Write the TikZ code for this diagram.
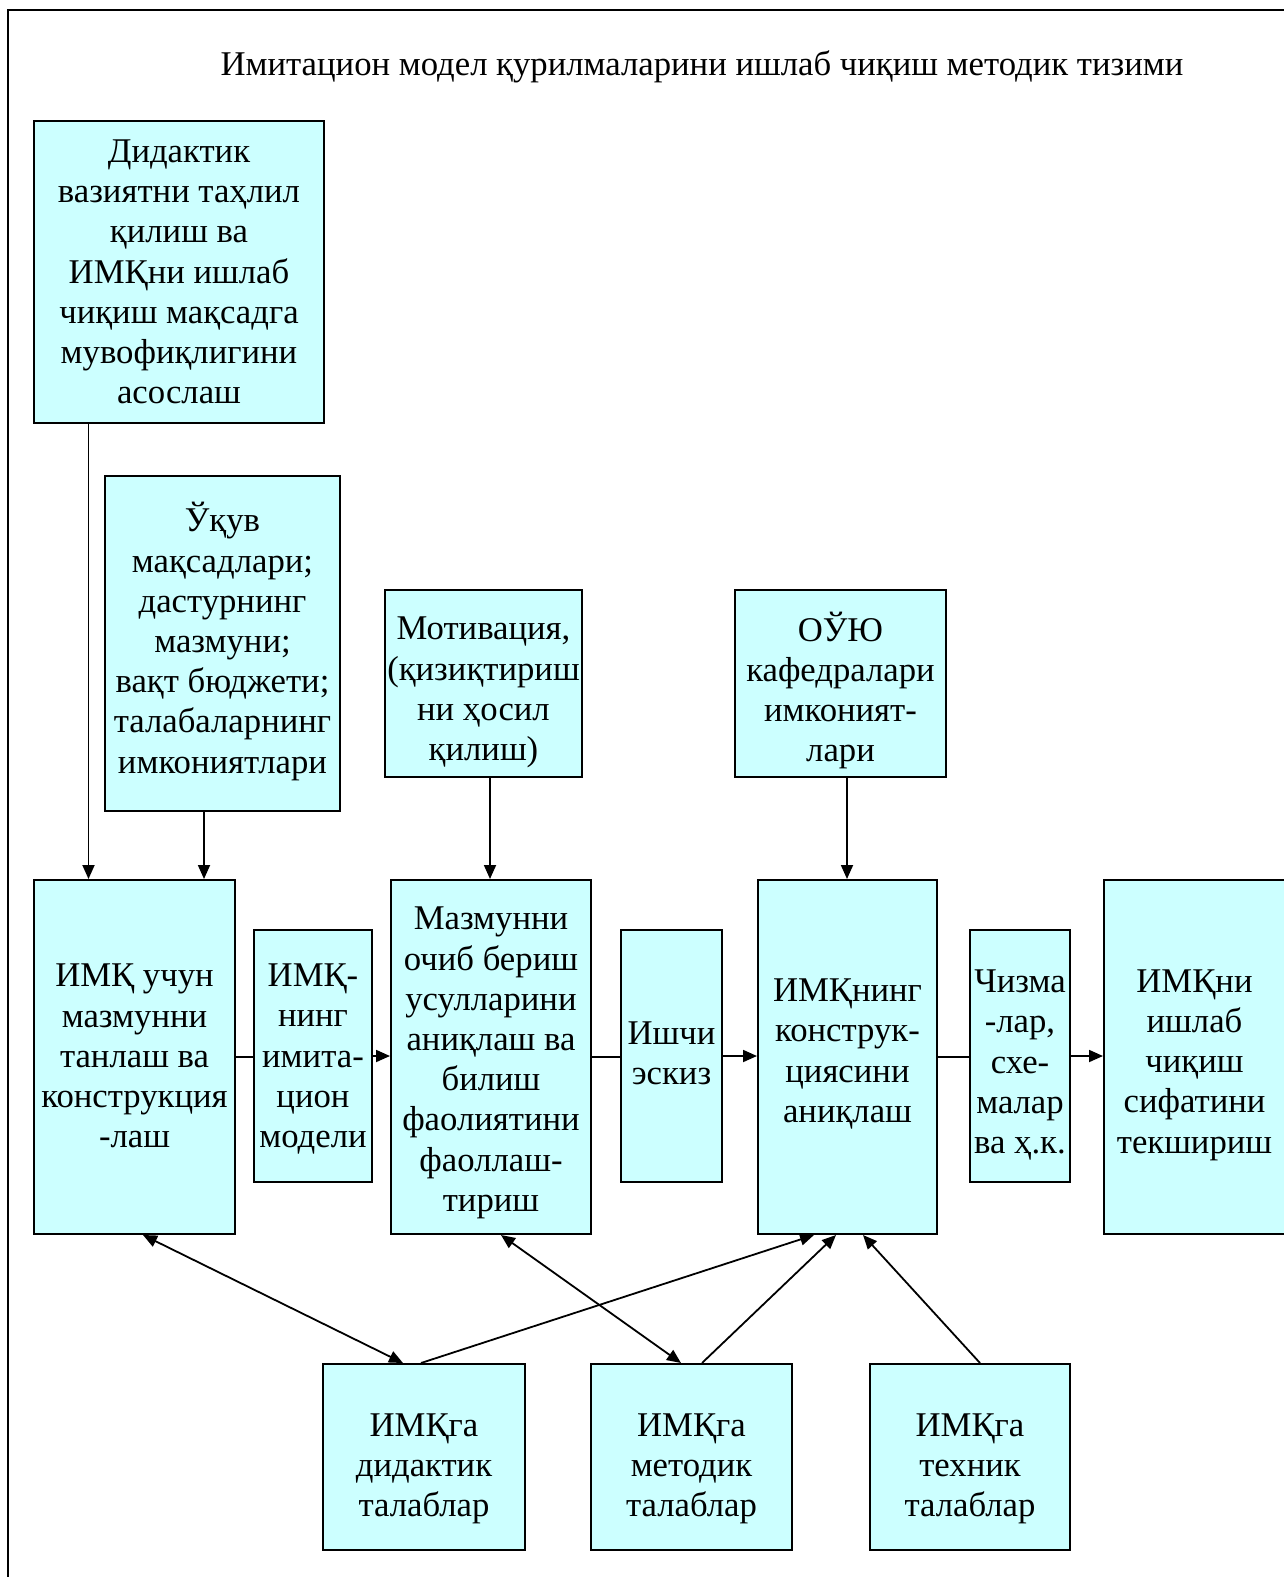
\documentclass[tikz,border=0pt]{standalone}
\usepackage{fontspec}
\setmainfont{Liberation Serif}
\usetikzlibrary{arrows.meta}
\definecolor{boxfill}{RGB}{204,255,255}
\begin{document}
\begin{tikzpicture}[x=1pt,y=-1pt,
  box/.style={draw=black, line width=2pt, fill=boxfill, inner sep=0pt, anchor=north west},
  txt/.style={inner sep=0pt, align=center, font=\fontsize{34.7}{40.2}\selectfont},
  conn/.style={line width=1.8pt},
  arr/.style={conn, -{Triangle[width=12pt,length=14pt]}},
  darr/.style={conn, {Triangle[width=12pt,length=14pt]}-{Triangle[width=12pt,length=14pt]}}]
\useasboundingbox (0,0) rectangle (1283,1577);
\draw[line width=2.5pt] (8,1600) -- (8,10) -- (1300,10);
\node[font=\fontsize{34.7}{40}\selectfont] (title) at (702,67) {Имитацион модел қурилмаларини ишлаб чиқиш методик тизими};
\node[box, minimum width=290pt, minimum height=302pt] (b1) at (33,120) {};
\node[box, minimum width=235pt, minimum height=335pt] (b2) at (104,475) {};
\node[box, minimum width=197pt, minimum height=187pt] (b3) at (384,589) {};
\node[box, minimum width=211pt, minimum height=187pt] (b4) at (734,589) {};
\node[box, minimum width=201pt, minimum height=354pt] (b5) at (33,879) {};
\node[box, minimum width=118pt, minimum height=252pt] (b6) at (253,929) {};
\node[box, minimum width=200pt, minimum height=354pt] (b7) at (390,879) {};
\node[box, minimum width=101pt, minimum height=252pt] (b8) at (620,929) {};
\node[box, minimum width=179pt, minimum height=354pt] (b9) at (757,879) {};
\node[box, minimum width=100pt, minimum height=252pt] (b10) at (969,929) {};
\node[box, minimum width=181pt, minimum height=354pt] (b11) at (1103,879) {};
\node[box, minimum width=202pt, minimum height=186pt] (b12) at (322,1363) {};
\node[box, minimum width=201pt, minimum height=186pt] (b13) at (590,1363) {};
\node[box, minimum width=200pt, minimum height=186pt] (b14) at (869,1363) {};
% texts
\node[txt] (t1) at ([yshift=0pt]b1.center) {Дидактик\\вазиятни таҳлил\\қилиш ва\\ИМҚни ишлаб\\чиқиш мақсадга\\мувофиқлигини\\асослаш};
\node[txt] (t2) at ([yshift=2pt]b2.center) {Ўқув\\мақсадлари;\\дастурнинг\\мазмуни;\\вақт бюджети;\\талабаларнинг\\имкониятлари};
\node[txt] (t3) at ([yshift=-9pt]b3.center) {Мотивация,\\(қизиқтириш\\ни ҳосил\\қилиш)};
\node[txt] (t4) at ([yshift=-7pt]b4.center) {ОЎЮ\\кафедралари\\имконият-\\лари};
\node[txt] (t5) at ([yshift=1pt]b5.center) {ИМҚ учун\\мазмунни\\танлаш ва\\конструкция\\-лаш};
\node[txt] (t6) at ([yshift=-3pt]b6.center) {ИМҚ-\\нинг\\имита-\\цион\\модели};
\node[txt] (t7) at ([yshift=-6pt]b7.center) {Мазмунни\\очиб бериш\\усулларини\\аниқлаш ва\\билиш\\фаолиятини\\фаоллаш-\\тириш};
\node[txt] (t8) at ([yshift=3pt]b8.center) {Ишчи\\эскиз};
\node[txt] (t9) at ([yshift=3pt]b9.center) {ИМҚнинг\\конструк-\\циясини\\аниқлаш};
\node[txt] (t10) at ([yshift=-9pt]b10.center) {Чизма\\-лар,\\схе-\\малар\\ва ҳ.к.};
\node[txt] (t11) at ([yshift=-8pt]b11.center) {ИМҚни\\ишлаб\\чиқиш\\сифатини\\текшириш};
\node[txt] (t12) at ([yshift=-12pt]b12.center) {ИМҚга\\дидактик\\талаблар};
\node[txt] (t13) at ([yshift=-12pt]b13.center) {ИМҚга\\методик\\талаблар};
\node[txt] (t14) at ([yshift=-12pt]b14.center) {ИМҚга\\техник\\талаблар};
% vertical arrows
\draw[arr] ([xshift=55.5pt]b1.south west) -- ([xshift=55.5pt]b1.south west |- b5.north);
\draw[arr] ([xshift=100pt]b2.south west) -- ([xshift=100pt]b2.south west |- b5.north);
\draw[arr] ([xshift=106pt]b3.south west) -- ([xshift=106pt]b3.south west |- b7.north);
\draw[arr] ([xshift=113pt]b4.south west) -- ([xshift=113pt]b4.south west |- b9.north);
% horizontal chain
\draw[conn] (b5.east) -- (b5.east -| b6.west);
\draw[arr] (b6.east) -- (b6.east -| b7.west);
\draw[conn] (b7.east) -- (b7.east -| b8.west);
\draw[arr] (b8.east) -- (b8.east -| b9.west);
\draw[conn] (b9.east) -- (b9.east -| b10.west);
\draw[arr] (b10.east) -- (b10.east -| b11.west);
% bottom arrows
\draw[darr] ([xshift=110pt]b5.south west) -- ([xshift=81pt]b12.north west);
\draw[darr] ([xshift=111pt]b7.south west) -- ([xshift=91pt]b13.north west);
\draw[arr] ([xshift=99pt]b12.north west) -- ([xshift=57pt]b9.south west);
\draw[arr] ([xshift=112pt]b13.north west) -- ([xshift=79pt]b9.south west);
\draw[arr] ([xshift=111pt]b14.north west) -- ([xshift=106pt]b9.south west);
\end{tikzpicture}
\end{document}
